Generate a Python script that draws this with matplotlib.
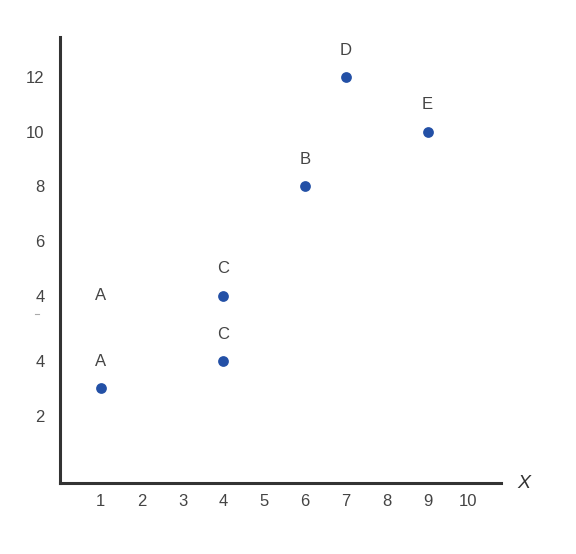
import numpy as np
import matplotlib.pyplot as plt

plt.rcParams['font.family'] = ['Liberation Sans', 'DejaVu Sans']

# y axis is broken: the lower part (2, 4) is shifted down by BREAK units
BREAK = 2.4

# points: x, y, which part of the axis, label
pt_x = [1, 4, 4, 6, 7, 9]
pt_y = [3, 4, 4, 8, 12, 10]
pt_part = ['low', 'low', 'up', 'up', 'up', 'up']
pt_label = ['A', 'C', 'C', 'B', 'D', 'E']

# stray label with no point
extra_x = [1]
extra_y = [4]
extra_label = ['A']

up_ticks = [4, 6, 8, 10, 12]
low_ticks = [2, 4]
x_ticks = [1, 2, 3, 4, 5, 6, 7, 8, 9, 10]


def ypos(v, part):
    return v if part == 'up' else v - BREAK


fig = plt.figure(figsize=(5.76, 5.54), dpi=100)
ax = fig.add_axes([0.104, 0.128, 0.766, 0.805])

ys = [ypos(v, p) for v, p in zip(pt_y, pt_part)]
ax.scatter(pt_x, ys, s=60, color='#2350a6', zorder=3, linewidths=0)
for x, y, lab in zip(pt_x, ys, pt_label):
    ax.annotate(lab, (x, y), xytext=(0, 19.5), textcoords='offset points',
                ha='center', va='center', fontsize=12, color='#444444')
for x, y, lab in zip(extra_x, extra_y, extra_label):
    ax.text(x, y, lab, ha='center', va='center', fontsize=12, color='#444444')

ax.set_xlim(0, 10.8)
ax.set_ylim(-2.87, 13.47)

ax.set_xticks(x_ticks)
ax.set_xticklabels([str(t) for t in x_ticks])
yt = [ypos(v, 'up') for v in up_ticks] + [ypos(v, 'low') for v in low_ticks]
ax.set_yticks(yt)
ax.set_yticklabels([str(v) for v in up_ticks] + [str(v) for v in low_ticks])
ax.tick_params(length=0, labelsize=12, labelcolor='#444444')
ax.tick_params(axis='x', pad=8)
ax.tick_params(axis='y', pad=11)

# small break mark between the two 4s
ax.plot([-0.6, -0.5], [4 - 0.67, 4 - 0.67], color='#aaaaaa', lw=0.8,
        clip_on=False)

for s in ['top', 'right']:
    ax.spines[s].set_visible(False)
for s in ['left', 'bottom']:
    ax.spines[s].set_linewidth(2.2)
    ax.spines[s].set_color('#333333')

ax.text(11.35, -2.87, 'X', ha='center', va='center', fontsize=14,
        style='italic', color='#333333', clip_on=False)

fig.savefig('out.png', dpi=100)
